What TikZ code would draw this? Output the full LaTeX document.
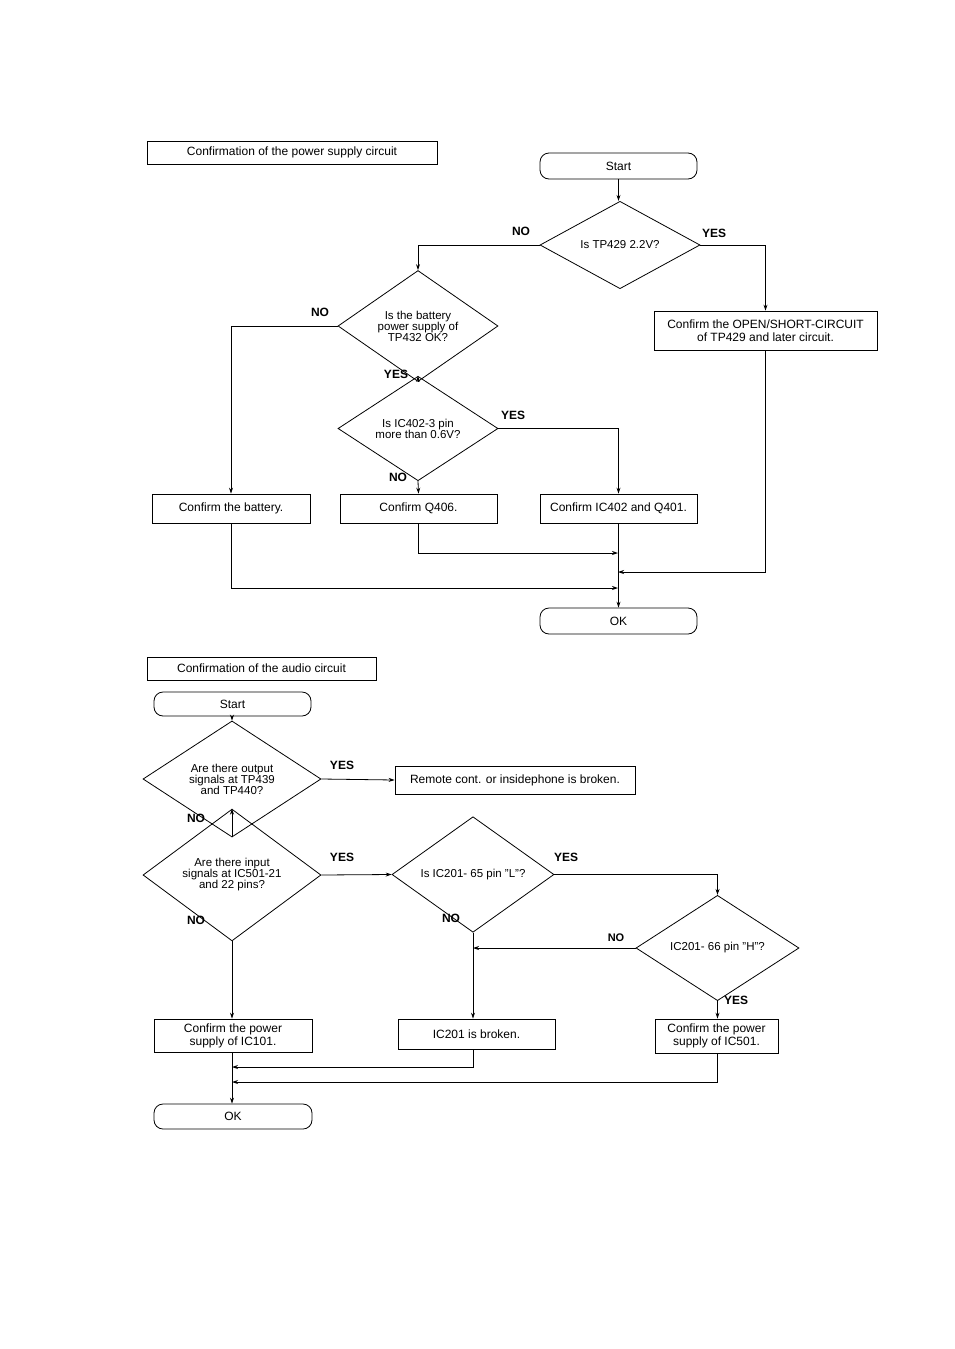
\documentclass[tikz,border=0pt]{standalone}
\usepackage{fontspec}
\setmainfont{Liberation Sans}
\usetikzlibrary{shapes.geometric,arrows.meta}
\begin{document}
\begin{tikzpicture}[x=1pt,y=-1pt,
  every node/.style={font=\fontsize{12}{13}\selectfont},
  box/.style={draw,thick,rectangle,inner sep=0pt,align=center},
  term/.style={draw,thick,rounded corners=9pt,inner sep=0pt},
  dia/.style={draw,thick,diamond,inner sep=0pt,align=center,font=\fontsize{11.5}{11}\selectfont},
  lab/.style={font=\bfseries\fontsize{12}{13}\selectfont},
  line/.style={thick},
  arr/.style={thick,-{Stealth[length=6pt,width=4pt]}}]
\useasboundingbox (0,0) rectangle (954,1349);
% ---- top
\node[box,minimum width=290,minimum height=23] (t1) at (292,152.5) {Confirmation of the power supply circuit};
\node[term,minimum width=157,minimum height=26] (s1) at (618.5,166) {Start};
\node[dia,minimum width=160,minimum height=72] (d1) at (620,245) {Is TP429 2.2V?};
\node[dia,minimum width=160,minimum height=72] (d2) at (418,326) {Is the battery\\power supply of\\TP432 OK?};
\node[dia,minimum width=160,minimum height=73] (d3) at (418,428.5) {Is IC402-3 pin\\more than 0.6V?};
\node[box,minimum width=223,minimum height=39] (b1) at (765.5,330.5) {Confirm the OPEN/SHORT-CIRCUIT\\of TP429 and later circuit.};
\node[box,minimum width=158,minimum height=29] (bb) at (231,508.5) {Confirm the battery.};
\node[box,minimum width=157,minimum height=29] (bq) at (418.5,508.5) {Confirm Q406.};
\node[box,minimum width=157,minimum height=29] (bi) at (618.5,508.5) {Confirm IC402 and Q401.};
\node[term,minimum width=157,minimum height=26] (ok1) at (618.5,621) {OK};
\coordinate (j1) at (618,553);
\coordinate (j2) at (618,572);
\coordinate (j3) at (618,588);
\draw[arr] (s1) -- (d1.north -| s1);
\draw[arr] (d1.west) -| (d2.north);
\draw[arr] (d1.east) -| (b1.north);
\draw[arr] (d2.west) -| (bb.north);
\draw[arr] (d2.south) -- (d3.north);
\draw[arr] (d3.east) -| (bi.north);
\draw[arr] (d3.south) -- (bq.north);
\draw[arr] (bq.south) |- (j1);
\draw[arr] (b1.south) |- (j2);
\draw[arr] (bb.south) |- (j3);
\draw[arr] (bi.south -| ok1) -- (ok1.north);
\node[lab] at (521,231) {NO};
\node[lab] at (714,233) {YES};
\node[lab] at (320,312) {NO};
\node[lab] at (396,374) {YES};
\node[lab] at (513,415) {YES};
\node[lab] at (398,477) {NO};
% ---- bottom
\node[box,minimum width=229,minimum height=23] (t2) at (261.5,668.5) {Confirmation of the audio circuit};
\node[term,minimum width=157,minimum height=24] (s2) at (232.5,704) {Start};
\node[dia,minimum width=178,minimum height=80] (d4) at (232,779) {Are there output\\signals at TP439\\and TP440?};
\node[box,minimum width=240,minimum height=28] (br) at (515,780) {Remote cont. or insidephone is broken.};
\node[dia,minimum width=178,minimum height=80] (d5) at (232,875) {Are there input\\signals at IC501-21\\and 22 pins?};
\node[dia,minimum width=162,minimum height=73] (d6) at (473,874.5) {Is IC201- 65 pin "L"?};
\node[dia,minimum width=163,minimum height=74] (d7) at (717.5,948) {IC201- 66 pin "H"?};
\node[box,minimum width=158,minimum height=33] (c1) at (233,1035.5) {Confirm the power\\supply of IC101.};
\node[box,minimum width=157,minimum height=30] (c2) at (476.5,1034) {IC201 is broken.};
\node[box,minimum width=123,minimum height=34] (c3) at (716.5,1036) {Confirm the power\\supply of IC501.};
\node[term,minimum width=158,minimum height=25] (ok2) at (233,1116.5) {OK};
\coordinate (k1) at (232,1067);
\coordinate (k2) at (232,1082);
\draw[arr] (s2.south -| d4) -- (d4.north);
\draw[arr] (d4.east) -- (br.west);
\draw[arr] (d4.south) -- (d5.north);
\draw[arr] (d5.east) -- (d6.west);
\draw[arr] (d6.east) -| (d7.north);
\draw[arr] (d7.west) -- (d7.west -| d6);
\draw[arr] (d6.south) -- (d6 |- c2.north);
\draw[arr] (d7.south) -- (d7 |- c3.north);
\draw[arr] (d5.south) -- (d5 |- c1.north);
\draw[arr] (d6 |- c2.south) |- (k1);
\draw[arr] (d7 |- c3.south) |- (k2);
\draw[arr] (d5 |- c1.south) -- (d5 |- ok2.north);
\node[lab] at (342,765) {YES};
\node[lab] at (196,818) {NO};
\node[lab] at (342,857) {YES};
\node[lab] at (566,857) {YES};
\node[lab] at (196,920) {NO};
\node[lab] at (451,918) {NO};
\node[lab,font=\bfseries\fontsize{11}{12}\selectfont] at (616,938) {NO};
\node[lab] at (736,1000) {YES};
\end{tikzpicture}
\end{document}
